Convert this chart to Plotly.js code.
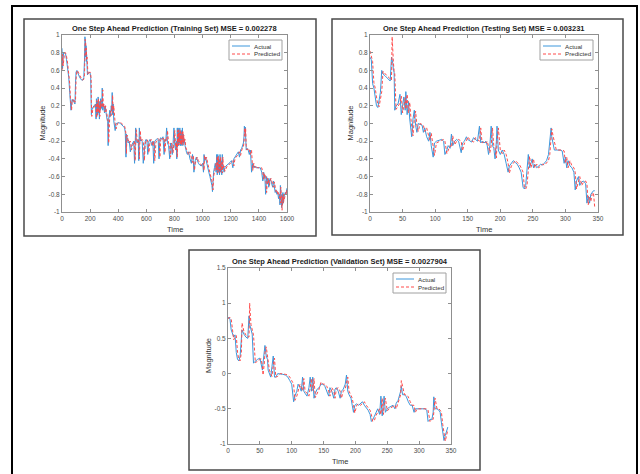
<!DOCTYPE html>
<html>
<head>
<meta charset="utf-8">
<script src="https://cdn.plot.ly/plotly-3.0.1.min.js"></script>
<style>html,body{margin:0;padding:0;background:#fff;}#chart{width:640px;height:474px;}</style>
</head>
<body>
<div id="chart"></div>
<script>
// ---------------- DATA ----------------
const trainTime = [
  0,4,8,12,18,25,32,40,48,55,60,64,68,72,76,80,86,92,96,100,106,112,120,130,140,148,155,160,163,165,167,169,171,173,175,178,181,185,190,196,200,204,207,209,212,
  218,225,232,238,242,245,248,251,254,257,260,263,266,269,272,275,278,282,286,290,294,298,302,306,310,315,320,325,328,332,336,340,345,350,354,357,360,364,368,372,378,385,395,405,415,425,435,445,
  450,455,458,462,466,470,478,486,494,502,510,516,520,524,528,535,542,546,550,556,562,570,578,586,592,598,604,610,618,626,634,640,646,652,660,668,676,684,690,696,702,710,718,726,732,738,744,750,758,766,772,778,784,790,796,802,808,812,816,820,823,826,829,832,835,838,841,844,847,850,853,856,859,862,866,870,875,
  880,886,892,900,910,920,928,934,938,942,948,955,962,970,980,990,1000,1006,1010,1014,1020,1028,1036,1044,1052,1060,1066,1070,1074,1078,1084,1090,1096,1100,1104,1108,1112,1116,1120,1124,1128,1132,1136,1140,1144,1148,1152,1158,1166,1175,1185,1195,1205,1215,1222,1230,1238,1246,1254,1262,1270,1278,1284,1290,1294,1297,1300,1303,1306,1310,
  1316,1324,1332,1340,1348,1356,1364,1372,1380,1390,1400,1410,1420,1428,1434,1438,1442,1448,1455,1462,1466,1470,1475,1480,1486,1492,1498,1504,1510,1516,1522,1528,1534,1540,1546,1550,1553,1556,1559,1562,1565,1568,1571,1574,1577,1580,1584,1588,1592,1596,1600
];
const trainActual = [
  0.85,0.62,0.75,0.80,0.80,0.79,0.72,0.62,0.52,0.35,0.20,0.15,0.22,0.27,0.25,0.27,0.24,0.22,0.45,0.58,0.60,0.57,0.54,0.51,0.49,0.49,0.52,0.72,0.98,0.80,0.92,0.75,0.88,0.70,0.78,0.60,0.55,0.57,0.58,0.58,0.57,0.52,0.25,0.10,0.15,
  0.18,0.20,0.21,0.22,0.05,0.28,0.08,0.25,0.10,0.30,0.12,0.22,0.05,0.25,0.15,0.28,0.18,0.17,0.40,0.15,0.22,0.18,0.12,0.20,0.14,0.08,0.05,0.02,-0.25,0.05,0.10,0.15,0.08,0.20,0.15,0.35,0.10,0.22,0.03,0.00,-0.08,0.00,0.01,0.01,0.00,-0.01,-0.03,-0.05,
  -0.10,-0.38,-0.12,-0.15,-0.18,-0.22,-0.20,-0.32,-0.25,-0.22,-0.20,-0.45,-0.25,-0.05,-0.20,-0.22,-0.18,-0.42,-0.05,-0.20,-0.18,-0.20,-0.45,-0.22,-0.20,-0.18,-0.20,-0.35,-0.20,-0.18,-0.22,-0.25,-0.20,-0.45,-0.20,-0.18,-0.17,-0.18,-0.40,-0.18,-0.16,-0.18,-0.15,-0.35,-0.18,-0.20,-0.05,-0.22,-0.25,-0.40,-0.22,-0.25,-0.35,-0.22,-0.05,-0.25,-0.30,-0.20,-0.40,-0.05,-0.25,-0.05,-0.25,-0.10,-0.22,-0.05,-0.25,-0.10,-0.25,-0.08,-0.22,-0.05,-0.25,-0.12,-0.22,-0.18,-0.25,
  -0.30,-0.33,-0.35,-0.32,-0.40,-0.45,-0.35,-0.42,-0.55,-0.45,-0.42,-0.38,-0.42,-0.45,-0.47,-0.48,-0.45,-0.55,-0.35,-0.42,-0.38,-0.45,-0.50,-0.55,-0.60,-0.65,-0.70,-0.77,-0.60,-0.55,-0.50,-0.45,-0.55,-0.35,-0.58,-0.35,-0.55,-0.40,-0.58,-0.35,-0.55,-0.42,-0.58,-0.35,-0.52,-0.48,-0.55,-0.50,-0.48,-0.47,-0.45,-0.44,-0.42,-0.50,-0.40,-0.38,-0.37,-0.35,-0.32,-0.38,-0.30,-0.28,-0.26,-0.22,-0.15,-0.03,-0.10,-0.04,-0.25,-0.30,
  -0.28,-0.30,-0.35,-0.30,-0.55,-0.45,-0.50,-0.48,-0.50,-0.50,-0.50,-0.50,-0.55,-0.65,-0.55,-0.62,-0.58,-0.80,-0.60,-0.68,-0.62,-0.72,-0.65,-0.62,-0.65,-0.70,-0.72,-0.65,-0.70,-0.78,-0.75,-0.80,-0.78,-0.85,-0.80,-0.92,-0.70,-0.90,-0.75,-0.95,-0.80,-0.92,-0.78,-0.90,-0.85,-0.82,-0.80,-0.78,-0.80,-0.75,-0.73
];
const trainPredicted = [
  0.60,0.78,0.65,0.76,0.80,0.80,0.76,0.68,0.56,0.45,0.28,0.18,0.15,0.24,0.27,0.25,0.27,0.24,0.25,0.50,0.60,0.59,0.56,0.52,0.50,0.49,0.50,0.55,0.75,0.95,0.82,0.90,0.76,0.85,0.72,0.75,0.58,0.55,0.57,0.58,0.58,0.56,0.50,0.22,0.08,
  0.15,0.18,0.20,0.21,0.22,0.06,0.26,0.10,0.24,0.12,0.28,0.14,0.20,0.08,0.24,0.16,0.26,0.18,0.18,0.38,0.18,0.22,0.18,0.13,0.20,0.14,0.08,0.05,0.02,-0.22,0.06,0.10,0.14,0.09,0.20,0.16,0.32,0.12,0.20,0.04,0.00,-0.06,0.00,0.01,0.01,0.00,-0.01,-0.03,
  -0.06,-0.12,-0.34,-0.13,-0.15,-0.18,-0.22,-0.20,-0.30,-0.25,-0.22,-0.20,-0.42,-0.24,-0.07,-0.20,-0.22,-0.19,-0.40,-0.08,-0.20,-0.18,-0.20,-0.42,-0.22,-0.20,-0.18,-0.20,-0.33,-0.20,-0.18,-0.22,-0.25,-0.20,-0.42,-0.21,-0.18,-0.17,-0.18,-0.38,-0.18,-0.16,-0.18,-0.16,-0.33,-0.18,-0.20,-0.08,-0.22,-0.25,-0.38,-0.22,-0.25,-0.33,-0.22,-0.08,-0.25,-0.30,-0.21,-0.38,-0.08,-0.24,-0.07,-0.24,-0.11,-0.21,-0.07,-0.24,-0.12,-0.24,-0.10,-0.21,-0.08,-0.24,-0.13,-0.21,-0.18,
  -0.27,-0.30,-0.33,-0.35,-0.32,-0.40,-0.44,-0.36,-0.42,-0.53,-0.45,-0.42,-0.38,-0.42,-0.45,-0.47,-0.48,-0.45,-0.53,-0.36,-0.42,-0.38,-0.45,-0.50,-0.55,-0.60,-0.65,-0.70,-0.75,-0.60,-0.55,-0.50,-0.45,-0.53,-0.37,-0.56,-0.37,-0.53,-0.42,-0.56,-0.38,-0.53,-0.44,-0.56,-0.38,-0.51,-0.48,-0.54,-0.50,-0.48,-0.47,-0.45,-0.44,-0.42,-0.48,-0.40,-0.38,-0.37,-0.35,-0.32,-0.36,-0.30,-0.28,-0.26,-0.22,-0.15,-0.05,-0.12,-0.06,-0.25,
  -0.30,-0.28,-0.30,-0.35,-0.30,-0.53,-0.45,-0.50,-0.48,-0.50,-0.50,-0.50,-0.50,-0.55,-0.63,-0.56,-0.60,-0.58,-0.78,-0.62,-0.67,-0.63,-0.70,-0.65,-0.62,-0.65,-0.70,-0.72,-0.66,-0.70,-0.77,-0.75,-0.80,-0.78,-0.84,-0.81,-0.90,-0.72,-0.88,-0.77,-0.98,-0.82,-0.90,-0.80,-0.88,-0.86,-0.83,-0.80,-0.78,-0.80,-0.75
];

const testTime = [0,2,4,6,8,10,12,14,16,18,20,23,26,29,31,33,34,35,36,37,38,40,43,46,48,50,52,54,55,57,59,61,63,64,66,68,70,72,74,77,80,82,84,87,90,92,94,97,99,102,106,110,113,115,118,120,123,125,127,130,133,136,140,142,145,148,150,153,156,159,162,165,168,170,172,175,178,180,182,184,186,188,190,192,194,195,197,200,203,206,209,212,214,217,220,223,226,229,232,235,237,239,241,243,245,247,249,251,253,256,259,262,265,268,271,274,276,278,279,281,283,286,289,292,295,298,300,302,304,307,310,313,315,317,320,322,325,328,331,333,335,337,339,341,343,345];
const testActual = [0.75,0.72,0.45,0.40,0.30,0.20,0.18,0.25,0.35,0.60,0.56,0.54,0.52,0.50,0.48,0.75,0.72,0.68,0.60,0.58,0.15,0.20,0.22,0.33,0.10,0.20,0.30,0.15,0.36,0.10,0.25,0.05,-0.05,-0.15,0.05,0.15,-0.02,-0.10,0.00,-0.01,-0.02,-0.10,-0.05,-0.15,-0.20,-0.10,-0.25,-0.38,-0.22,-0.20,-0.19,-0.18,-0.20,-0.35,-0.30,-0.25,-0.28,-0.12,-0.25,-0.20,-0.18,-0.20,-0.33,-0.22,-0.20,-0.15,-0.18,-0.20,-0.21,-0.16,-0.18,-0.20,-0.03,-0.22,-0.20,-0.22,-0.20,-0.25,-0.35,-0.25,-0.03,-0.25,-0.28,-0.40,-0.20,-0.03,-0.30,-0.35,-0.30,-0.35,-0.45,-0.55,-0.48,-0.45,-0.42,-0.44,-0.46,-0.50,-0.55,-0.72,-0.74,-0.70,-0.55,-0.35,-0.50,-0.45,-0.40,-0.50,-0.46,-0.50,-0.48,-0.46,-0.47,-0.45,-0.42,-0.35,-0.20,-0.05,-0.15,-0.22,-0.30,-0.30,-0.30,-0.30,-0.31,-0.45,-0.38,-0.50,-0.42,-0.48,-0.50,-0.55,-0.75,-0.65,-0.60,-0.70,-0.66,-0.65,-0.68,-0.90,-0.82,-0.90,-0.80,-0.78,-0.76,-0.76];
const testPredicted = [0.82,0.76,0.70,0.46,0.40,0.30,0.21,0.19,0.26,0.36,0.59,0.56,0.54,0.52,0.50,0.49,0.98,0.74,0.68,0.60,0.57,0.16,0.20,0.23,0.31,0.12,0.20,0.29,0.16,0.33,0.12,0.24,0.04,-0.05,-0.14,0.05,0.14,-0.02,-0.09,0.00,-0.01,-0.02,-0.09,-0.05,-0.14,-0.19,-0.11,-0.24,-0.36,-0.22,-0.20,-0.19,-0.18,-0.20,-0.34,-0.30,-0.25,-0.27,-0.14,-0.24,-0.20,-0.18,-0.20,-0.31,-0.22,-0.20,-0.15,-0.18,-0.20,-0.21,-0.16,-0.18,-0.20,-0.05,-0.22,-0.20,-0.22,-0.20,-0.25,-0.33,-0.25,-0.05,-0.25,-0.28,-0.39,-0.20,-0.05,-0.30,-0.34,-0.30,-0.35,-0.45,-0.56,-0.48,-0.45,-0.42,-0.44,-0.46,-0.50,-0.55,-0.72,-0.74,-0.70,-0.55,-0.37,-0.50,-0.45,-0.40,-0.50,-0.46,-0.50,-0.48,-0.46,-0.47,-0.45,-0.42,-0.35,-0.20,-0.06,-0.14,-0.22,-0.30,-0.30,-0.30,-0.30,-0.31,-0.45,-0.38,-0.50,-0.42,-0.48,-0.50,-0.55,-0.74,-0.65,-0.60,-0.70,-0.66,-0.65,-0.68,-0.92,-0.82,-0.88,-0.80,-0.78,-0.95];

const valTime = [0,3,5,7,9,11,13,15,17,19,21,22,25,28,31,33,34,36,38,40,43,46,50,52,54,55,57,58,60,62,63,65,67,69,71,73,75,78,82,86,90,94,97,100,103,105,108,110,113,115,117,119,121,124,127,129,131,133,135,137,140,143,146,149,152,155,158,160,163,166,168,170,173,176,178,181,184,186,188,190,193,195,197,199,202,205,208,211,214,217,220,223,225,227,230,232,235,238,240,242,244,245,247,250,253,256,259,262,264,267,269,271,272,274,277,280,283,286,289,292,294,297,301,305,309,312,314,317,320,322,323,325,328,331,333,335,337,339,341,343,345];
const valActual = [0.80,0.78,0.62,0.55,0.52,0.55,0.30,0.20,0.18,0.25,0.55,0.62,0.56,0.52,0.50,0.82,0.70,0.62,0.56,0.15,0.18,0.20,0.22,0.10,0.05,0.15,0.30,0.40,0.25,0.20,0.05,0.00,-0.05,0.10,0.25,-0.05,-0.05,0.00,0.00,-0.01,-0.02,-0.05,-0.10,-0.15,-0.40,-0.32,-0.25,-0.15,-0.20,-0.25,-0.05,-0.25,-0.28,-0.32,-0.20,-0.05,-0.25,-0.05,-0.35,-0.28,-0.22,-0.20,-0.15,-0.15,-0.18,-0.25,-0.32,-0.20,-0.25,-0.35,-0.22,-0.20,-0.25,-0.35,-0.25,-0.22,-0.15,-0.02,-0.25,-0.30,-0.35,-0.45,-0.55,-0.45,-0.43,-0.45,-0.42,-0.40,-0.45,-0.48,-0.52,-0.58,-0.68,-0.66,-0.60,-0.55,-0.50,-0.58,-0.32,-0.60,-0.45,-0.32,-0.55,-0.50,-0.48,-0.47,-0.45,-0.50,-0.42,-0.38,-0.32,-0.25,-0.18,-0.30,-0.30,-0.33,-0.40,-0.45,-0.45,-0.55,-0.50,-0.50,-0.50,-0.50,-0.50,-0.52,-0.68,-0.65,-0.65,-0.55,-0.33,-0.50,-0.50,-0.52,-0.55,-0.70,-0.80,-0.95,-0.88,-0.80,-0.76];
const valPredicted = [0.78,0.80,0.78,0.60,0.48,0.52,0.54,0.30,0.20,0.18,0.30,0.72,0.60,0.55,0.52,0.52,1.00,0.70,0.60,0.55,0.15,0.18,0.20,0.21,0.10,-0.02,0.15,0.30,0.38,0.25,0.20,0.05,0.00,-0.04,0.12,0.22,-0.05,-0.04,0.00,0.00,-0.01,-0.02,-0.05,-0.10,-0.15,-0.38,-0.32,-0.25,-0.15,-0.20,-0.24,-0.07,-0.25,-0.28,-0.32,-0.20,-0.07,-0.24,-0.07,-0.34,-0.28,-0.22,-0.12,-0.15,-0.15,-0.18,-0.25,-0.32,-0.20,-0.25,-0.35,-0.22,-0.20,-0.25,-0.35,-0.25,-0.22,-0.15,-0.05,-0.25,-0.30,-0.35,-0.45,-0.56,-0.45,-0.43,-0.45,-0.42,-0.40,-0.45,-0.48,-0.52,-0.58,-0.68,-0.66,-0.60,-0.55,-0.50,-0.58,-0.35,-0.58,-0.45,-0.35,-0.53,-0.50,-0.48,-0.47,-0.45,-0.50,-0.42,-0.38,-0.30,-0.10,-0.20,-0.30,-0.30,-0.33,-0.40,-0.45,-0.45,-0.55,-0.50,-0.50,-0.50,-0.50,-0.50,-0.52,-0.68,-0.65,-0.65,-0.55,-0.35,-0.50,-0.50,-0.52,-0.55,-0.72,-0.82,-0.96,-0.88,-0.80];

const panelTitles = [
  'One Step Ahead Prediction (Training Set) MSE = 0.002278',
  'One Step Ahead Prediction (Testing Set) MSE = 0.003231',
  'One Step Ahead Prediction (Validation Set) MSE = 0.0027904'
];
const seriesNames = ['Actual', 'Predicted'];
const xLabel = 'Time';
const yLabel = 'Magnitude';
const trainXTicks = [0,200,400,600,800,1000,1200,1400,1600];
const smallXTicks = [0,50,100,150,200,250,300,350];
const fineYTicks = [-1,-0.8,-0.6,-0.4,-0.2,0,0.2,0.4,0.6,0.8,1];
const fineYLabels = ['-1','-0.8','-0.6','-0.4','-0.2','0','0.2','0.4','0.6','0.8','1'];
const valYTicks = [-1,-0.5,0,0.5,1,1.5];
const valYLabels = ['-1','-0.5','0','0.5','1','1.5'];

// length sanity check
[[trainTime,trainActual,trainPredicted],[testTime,testActual,testPredicted],[valTime,valActual,valPredicted]].forEach((g,i)=>{
  if (g[0].length!==g[1].length || g[0].length!==g[2].length) throw new Error('length mismatch in set '+i+': '+g.map(a=>a.length).join(','));
});

// ---------------- LAYOUT HELPERS ----------------
const W = 640, H = 474;
const fx = p => p / W;
const fy = p => 1 - p / H;
const FONT = 'Liberation Sans, Arial, sans-serif';
const BLUE = '#3d97dc';
const RED = '#ff4a4a';
const AXC = '#8f8f8f';

// plot boxes in pixels [left, top, right, bottom]
const boxes = [
  [62, 35, 287, 212],
  [370, 35, 598, 212],
  [228, 268, 451, 444]
];
const frames = [
  [24, 19, 316, 236],
  [332, 19, 623, 235],
  [189, 250, 480, 470]
];

function xAxis(b, ticks, range, anchor) {
  return {
    domain: [fx(b[0]), fx(b[2])], range: range, anchor: anchor,
    tickvals: ticks, ticktext: ticks.map(String),
    showline: true, linecolor: AXC, linewidth: 1, mirror: 'allticks',
    ticks: 'inside', ticklen: 3, tickcolor: AXC, tickwidth: 1,
    showgrid: false, zeroline: false, fixedrange: true,
    tickfont: { family: FONT, size: 6.5, color: '#4d4d4d' }
  };
}
function yAxis(b, ticks, labels, range, anchor) {
  return {
    domain: [fy(b[3]), fy(b[1])], range: range, anchor: anchor,
    tickvals: ticks, ticktext: labels,
    showline: true, linecolor: AXC, linewidth: 1, mirror: 'allticks',
    ticks: 'inside', ticklen: 3, tickcolor: AXC, tickwidth: 1,
    showgrid: false, zeroline: false, fixedrange: true,
    tickfont: { family: FONT, size: 6.5, color: '#4d4d4d' }
  };
}

const sets = [
  { t: trainTime, a: trainActual, p: trainPredicted, xa: 'x', ya: 'y' },
  { t: testTime, a: testActual, p: testPredicted, xa: 'x2', ya: 'y2' },
  { t: valTime, a: valActual, p: valPredicted, xa: 'x3', ya: 'y3' }
];
const traces = [];
sets.forEach(s => {
  traces.push({ x: s.t, y: s.a, xaxis: s.xa, yaxis: s.ya, type: 'scatter', mode: 'lines',
    name: seriesNames[0], showlegend: false, line: { color: BLUE, width: 1 }, hoverinfo: 'skip' });
  traces.push({ x: s.t, y: s.p, xaxis: s.xa, yaxis: s.ya, type: 'scatter', mode: 'lines',
    name: seriesNames[1], showlegend: false, line: { color: RED, width: 1, dash: '3px,2px' }, hoverinfo: 'skip' });
});

const shapes = [];
const annotations = [];
// outer border
shapes.push({ type: 'rect', xref: 'paper', yref: 'paper', x0: fx(12), x1: fx(637), y0: fy(480), y1: fy(6),
  line: { color: '#000', width: 2 }, fillcolor: 'rgba(0,0,0,0)', layer: 'above' });
// panel frames
frames.forEach(f => shapes.push({ type: 'rect', xref: 'paper', yref: 'paper', x0: fx(f[0]), x1: fx(f[2]), y0: fy(f[3]), y1: fy(f[1]),
  line: { color: '#4a4a4a', width: 1.5 }, fillcolor: 'rgba(0,0,0,0)', layer: 'above' }));

boxes.forEach((b, i) => {
  const cx = (b[0] + b[2]) / 2, cy = (b[1] + b[3]) / 2;
  annotations.push({ xref: 'paper', yref: 'paper', x: fx(cx), y: fy(b[1] - 6.5), xanchor: 'center', yanchor: 'middle',
    text: '<b>' + panelTitles[i] + '</b>', showarrow: false, font: { family: FONT, size: 7.5, color: '#1a1a1a' } });
  annotations.push({ xref: 'paper', yref: 'paper', x: fx(cx), y: fy(b[3] + 17), xanchor: 'center', yanchor: 'middle',
    text: xLabel, showarrow: false, font: { family: FONT, size: 7.5, color: '#333' } });
  annotations.push({ xref: 'paper', yref: 'paper', x: fx(b[0] - 20), y: fy(cy), xanchor: 'center', yanchor: 'middle',
    text: yLabel, textangle: -90, showarrow: false, font: { family: FONT, size: 7.5, color: '#333' } });
  // legend box
  const lx1 = b[2] - 5, lx0 = lx1 - 53, ly0 = b[1] + 5, ly1 = ly0 + 20;
  shapes.push({ type: 'rect', xref: 'paper', yref: 'paper', x0: fx(lx0), x1: fx(lx1), y0: fy(ly1), y1: fy(ly0),
    line: { color: '#a0a0a0', width: 1 }, fillcolor: '#fff', layer: 'above' });
  const rows = [ly0 + 6, ly0 + 14];
  shapes.push({ type: 'line', xref: 'paper', yref: 'paper', x0: fx(lx0 + 3), x1: fx(lx0 + 21), y0: fy(rows[0]), y1: fy(rows[0]),
    line: { color: BLUE, width: 1 }, layer: 'above' });
  shapes.push({ type: 'line', xref: 'paper', yref: 'paper', x0: fx(lx0 + 3), x1: fx(lx0 + 21), y0: fy(rows[1]), y1: fy(rows[1]),
    line: { color: RED, width: 1, dash: '3px,2px' }, layer: 'above' });
  seriesNames.forEach((n, k) => annotations.push({ xref: 'paper', yref: 'paper', x: fx(lx0 + 23), y: fy(rows[k]), xanchor: 'left', yanchor: 'middle',
    text: n, showarrow: false, font: { family: FONT, size: 6.2, color: '#333' } }));
});

const layout = {
  width: W, height: H, autosize: false,
  margin: { l: 0, r: 0, t: 0, b: 0, pad: 0 },
  paper_bgcolor: '#fff', plot_bgcolor: '#fff',
  showlegend: false,
  font: { family: FONT },
  xaxis: xAxis(boxes[0], trainXTicks, [0, 1600], 'y'),
  yaxis: yAxis(boxes[0], fineYTicks, fineYLabels, [-1, 1], 'x'),
  xaxis2: xAxis(boxes[1], smallXTicks, [0, 350], 'y2'),
  yaxis2: yAxis(boxes[1], fineYTicks, fineYLabels, [-1, 1], 'x2'),
  xaxis3: xAxis(boxes[2], smallXTicks, [0, 350], 'y3'),
  yaxis3: yAxis(boxes[2], valYTicks, valYLabels, [-1, 1.5], 'x3'),
  shapes: shapes,
  annotations: annotations
};

Plotly.newPlot('chart', traces, layout, { staticPlot: true, displayModeBar: false });
</script>
</body>
</html>
